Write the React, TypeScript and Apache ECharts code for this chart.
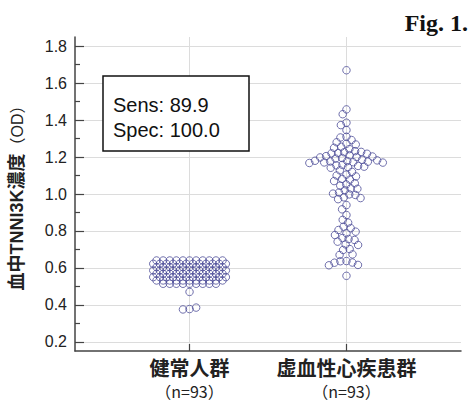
import { useEffect, useRef } from "react";
import * as echarts from "echarts";

// ---- data ----
const categories = ["健常人群", "虚血性心疾患群"];
const groupSizes = ["（n=93）", "（n=93）"];

// 健常人群 (n=93)
const healthyValues = [
  0.64, 0.64, 0.64, 0.64, 0.64, 0.64, 0.64, 0.64, 0.64, 0.64, 0.64,
  0.622, 0.622, 0.622, 0.622, 0.622, 0.622, 0.622, 0.622, 0.622, 0.622, 0.622, 0.622,
  0.604, 0.604, 0.604, 0.604, 0.604, 0.604, 0.604, 0.604, 0.604, 0.604, 0.604,
  0.586, 0.586, 0.586, 0.586, 0.586, 0.586, 0.586, 0.586, 0.586, 0.586, 0.586, 0.586,
  0.568, 0.568, 0.568, 0.568, 0.568, 0.568, 0.568, 0.568, 0.568, 0.568, 0.568,
  0.55, 0.55, 0.55, 0.55, 0.55, 0.55, 0.55, 0.55, 0.55, 0.55, 0.55, 0.55,
  0.532, 0.532, 0.532, 0.532, 0.532, 0.532, 0.532, 0.532, 0.532, 0.532, 0.532,
  0.514, 0.514, 0.514, 0.514, 0.514, 0.514, 0.514, 0.514, 0.514,
  0.47,
  0.375, 0.377, 0.385,
];

// 虚血性心疾患群 (n=93)
const ischemicValues = [
  1.67,
  1.458,
  1.432,
  1.373, 1.386,
  1.346,
  1.306, 1.31, 1.292,
  1.268, 1.28, 1.272,
  1.25, 1.243, 1.256,
  1.228, 1.22, 1.232, 1.218, 1.226, 1.222,
  1.2, 1.205, 1.195, 1.21, 1.198, 1.203, 1.192,
  1.175, 1.18, 1.17, 1.178, 1.172, 1.168, 1.182, 1.176, 1.171, 1.185,
  1.155, 1.148, 1.152, 1.145, 1.158, 1.142,
  1.128, 1.12,
  1.1, 1.105, 1.095,
  1.078, 1.07, 1.082,
  1.052, 1.045, 1.058,
  1.028, 1.02, 1.03,
  1.002, 0.995, 1.008, 0.998,
  0.978, 0.972, 0.982,
  0.94,
  0.917,
  0.886,
  0.86, 0.845,
  0.823, 0.815,
  0.805, 0.796,
  0.787, 0.778,
  0.742, 0.751, 0.756, 0.762,
  0.724, 0.727,
  0.697, 0.702,
  0.67, 0.673,
  0.629, 0.628, 0.614, 0.616, 0.636, 0.637,
  0.557,
];

const yMajorTicks = [0.2, 0.4, 0.6, 0.8, 1.0, 1.2, 1.4, 1.6, 1.8];
const yMinorTicks = [0.3, 0.5, 0.7, 0.9, 1.1, 1.3, 1.5, 1.7];
const categoryPositions = [1, 2];
const statLines = ["Sens: 89.9", "Spec: 100.0"];
const figureTitle = "Fig. 1.";
const yAxisTitle = "血中TNNI3K濃度";
const yAxisUnit = "（OD）";

// ---- layout ----
const WIDTH = 472;
const HEIGHT = 402;
const GRID = { left: 75, right: 11, top: 37, bottom: 51 };
const X_MIN = 0.27;
const X_MAX = 2.73;
const Y_MIN = 0.15;
const Y_MAX = 1.85;
const DOT_STEP_PX = 6.6;
const SWARM_GAP_PX = 6.1;
const PX_PER_X = (WIDTH - GRID.left - GRID.right) / (X_MAX - X_MIN);
const PX_PER_Y = (HEIGHT - GRID.top - GRID.bottom) / (Y_MAX - Y_MIN);

// dot-plot layout: values in the same bin are placed side by side
function dotPlot(values: number[], center: number, binWidth: number): number[][] {
  const bins = new Map<number, number[]>();
  values.forEach((v) => {
    const k = Math.round(v / binWidth);
    if (!bins.has(k)) bins.set(k, []);
    bins.get(k)!.push(v);
  });
  const out: number[][] = [];
  const step = DOT_STEP_PX / PX_PER_X;
  bins.forEach((vs) => {
    const n = vs.length;
    vs.forEach((v, i) => out.push([center + (i - (n - 1) / 2) * step, v]));
  });
  return out;
}

// beeswarm layout: greedy, nearest-to-centre non-overlapping position
function beeswarm(values: number[], center: number): number[][] {
  const d = SWARM_GAP_PX;
  const placed: { x: number; y: number }[] = [];
  const out: number[][] = [];
  const sorted = [...values].sort((a, b) => b - a);
  sorted.forEach((v) => {
    const y = v * PX_PER_Y;
    const cands = [0];
    placed.forEach((p) => {
      const dy = y - p.y;
      if (Math.abs(dy) < d) {
        const dx = Math.sqrt(d * d - dy * dy);
        cands.push(p.x + dx, p.x - dx);
      }
    });
    cands.sort((a, b) => Math.abs(a) - Math.abs(b) || a - b);
    let chosen = 0;
    for (const x of cands) {
      const ok = placed.every((p) => (x - p.x) ** 2 + (y - p.y) ** 2 >= d * d - 0.01);
      if (ok) {
        chosen = x;
        break;
      }
    }
    placed.push({ x: chosen, y });
    out.push([center + chosen / PX_PER_X, v]);
  });
  return out;
}

const AXIS_COLOR = "#444";
const DOT_COLOR = "#4e4e98";
const GRID_COLOR = "#dcdcdc";
const SANS = "'Liberation Sans', 'Noto Sans CJK JP', sans-serif";

export default function App() {
  const ref = useRef<HTMLDivElement>(null);
  useEffect(() => {
    if (!ref.current) return;
    const chart = echarts.init(ref.current, undefined, { renderer: "svg" });
    const dotStyle = {
      type: "scatter" as const,
      symbol: "circle",
      symbolSize: 7.5,
      itemStyle: { color: "rgba(255,255,255,0)", borderColor: DOT_COLOR, borderWidth: 1 },
      silent: true,
    };
    chart.setOption({
      animation: false,
      backgroundColor: "#fff",
      grid: { ...GRID, containLabel: false },
      xAxis: {
        type: "value",
        min: X_MIN,
        max: X_MAX,
        axisLine: { show: true, lineStyle: { color: AXIS_COLOR, width: 1.5 } },
        axisTick: { show: true, inside: true, length: 7, customValues: categoryPositions, lineStyle: { color: AXIS_COLOR, width: 1.2 } },
        axisLabel: {
          customValues: categoryPositions,
          margin: 5,
          formatter: (v: number) => {
            const i = categoryPositions.indexOf(Math.round(v));
            return i < 0 ? "" : `{b|${categories[i]}}\n{n|${groupSizes[i]}}`;
          },
          rich: {
            b: { fontSize: 20, fontWeight: "bold", fontFamily: SANS, color: "#222", lineHeight: 25 },
            n: { fontSize: 16, fontFamily: "'Noto Sans CJK JP', sans-serif", color: "#222", lineHeight: 19 },
          },
        },
        splitLine: { show: true, lineStyle: { color: GRID_COLOR, width: 1 } },
      },
      yAxis: [
        {
          type: "value",
          position: "left",
          min: Y_MIN,
          max: Y_MAX,
          axisLine: { show: true, lineStyle: { color: AXIS_COLOR, width: 1.5 } },
          axisTick: { show: true, inside: true, length: 9, customValues: yMajorTicks, lineStyle: { color: AXIS_COLOR, width: 1.2 } },
          axisLabel: {
            customValues: yMajorTicks,
            formatter: (v: number) => v.toFixed(1),
            fontSize: 16,
            fontFamily: SANS,
            color: "#222",
            margin: 8,
          },
          splitLine: { show: true, lineStyle: { color: GRID_COLOR, width: 1 } },
          name: `{a|${yAxisTitle}}{u|${yAxisUnit}}`,
          nameLocation: "middle",
          nameGap: 49,
          nameTextStyle: {
            rich: {
              a: { fontSize: 18, fontWeight: "bold", fontFamily: SANS, color: "#222" },
              u: { fontSize: 16, fontFamily: SANS, color: "#222" },
            },
          },
        },
        {
          type: "value",
          position: "left",
          offset: 0,
          min: Y_MIN,
          max: Y_MAX,
          axisLine: { show: false },
          axisTick: { show: true, inside: true, length: 5, customValues: yMinorTicks, lineStyle: { color: AXIS_COLOR, width: 1.2 } },
          axisLabel: { show: false },
          splitLine: { show: false },
        },
      ],
      series: [
        { ...dotStyle, name: categories[0], data: dotPlot(healthyValues, categoryPositions[0], 0.018) },
        { ...dotStyle, name: categories[1], data: beeswarm(ischemicValues, categoryPositions[1]) },
      ],
      graphic: [
        {
          type: "rect",
          z: 100,
          shape: { x: 103, y: 76, width: 146, height: 75 },
          style: { fill: "#fff", stroke: "#111", lineWidth: 1.5 },
        },
        {
          type: "text",
          z: 101,
          x: 113,
          y: 105,
          style: { text: statLines[0], fontSize: 20, fontFamily: SANS, fill: "#111", verticalAlign: "middle", textVerticalAlign: "middle" },
        },
        {
          type: "text",
          z: 101,
          x: 113,
          y: 130,
          style: { text: statLines[1], fontSize: 20, fontFamily: SANS, fill: "#111", verticalAlign: "middle", textVerticalAlign: "middle" },
        },
        {
          type: "text",
          z: 101,
          x: 468,
          y: 23,
          style: {
            text: figureTitle,
            fontSize: 24,
            fontWeight: "bold",
            fontFamily: "'Liberation Serif', 'DejaVu Serif', serif",
            fill: "#111",
            align: "right",
            textAlign: "right",
            verticalAlign: "middle",
            textVerticalAlign: "middle",
          },
        },
      ],
    });
    return () => chart.dispose();
  }, []);
  return (
    <div
      ref={ref}
      style={{ position: "fixed", left: 0, top: 0, width: WIDTH, height: HEIGHT, background: "#fff" }}
    />
  );
}
